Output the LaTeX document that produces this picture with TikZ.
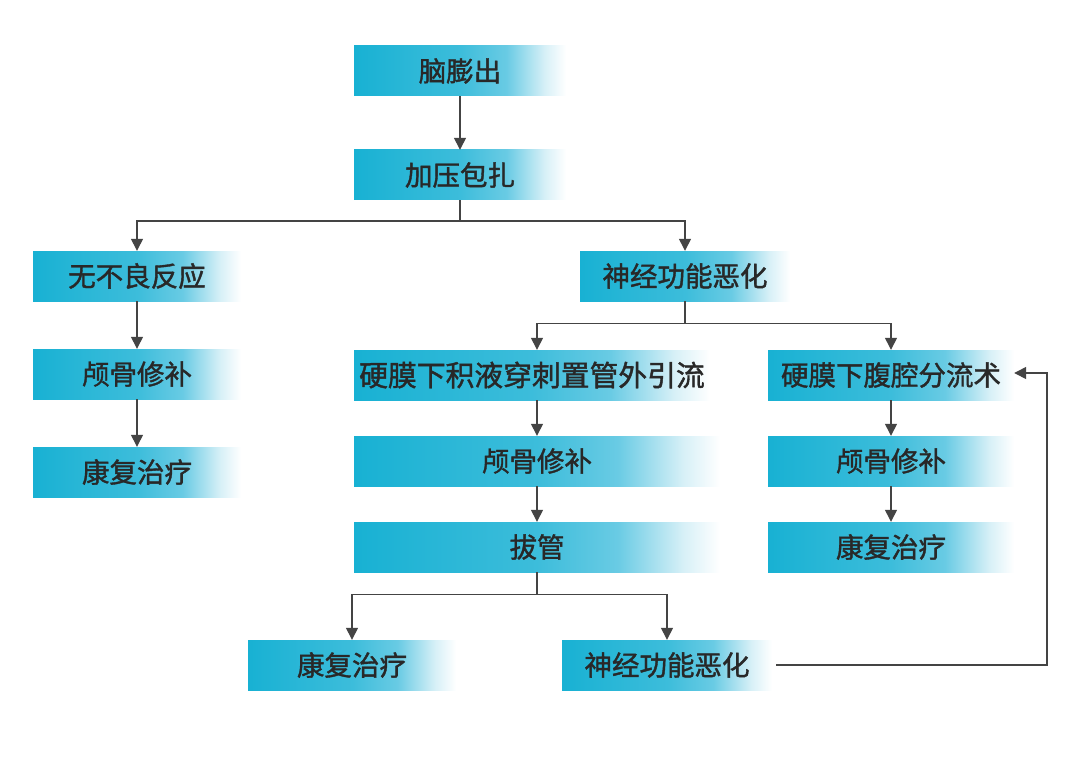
\documentclass[tikz,border=0pt]{standalone}
\usepackage{fontspec}
\newfontfamily\cjk[FakeBold=1.4]{Noto Sans CJK SC}
\usetikzlibrary{arrows.meta,calc}
\definecolor{cA}{RGB}{24,177,211}
\definecolor{cB}{RGB}{105,203,228}
\definecolor{cC}{RGB}{215,240,247}
\definecolor{txt}{RGB}{40,40,40}
\definecolor{ln}{RGB}{68,68,68}
\pgfdeclarehorizontalshading{boxfade}{100bp}{color(0bp)=(cA); color(25bp)=(cA); color(50bp)=(cA!55!cB); color(61bp)=(cB); color(70bp)=(cC); color(75bp)=(white); color(100bp)=(white)}
\tikzset{
  box/.style={rectangle, shading=boxfade, minimum height=50pt, inner sep=0pt,
    text=txt, font=\cjk\fontsize{27.5}{32}\selectfont},
  arr/.style={draw=ln, line width=1.4pt, -{Triangle[width=12pt,length=12pt]}},
  ln/.style={draw=ln, line width=1.4pt}
}
\begin{document}
\begin{tikzpicture}[x=1pt,y=-1pt]
\useasboundingbox (0,0) rectangle (1080,765);
\fill[white] (0,0) rectangle (1080,765);
% top
\node[box, minimum width=212pt] (a) at (460,71) {脑膨出};
\node[box, minimum width=212pt] (b) at (460,175) {加压包扎};
% level 3
\node[box, minimum width=208pt] (l1) at (137,276) {无不良反应};
\node[box, minimum width=210pt] (r0) at (685,276) {神经功能恶化};
% left column
\node[box, minimum width=208pt] (l2) at (137,374) {颅骨修补};
\node[box, minimum width=208pt] (l3) at (137,472) {康复治疗};
% middle column
\node[box, minimum width=356pt, font=\cjk\fontsize{28.8}{32}\selectfont] (m1) at (532,375) {硬膜下积液穿刺置管外引流};
\node[box, minimum width=366pt] (m2) at (537,461) {颅骨修补};
\node[box, minimum width=366pt] (m3) at (537,547) {拔管};
% right column
\node[box, minimum width=246pt] (q1) at (891,375) {硬膜下腹腔分流术};
\node[box, minimum width=246pt] (q2) at (891,461) {颅骨修补};
\node[box, minimum width=246pt] (q3) at (891,547) {康复治疗};
% bottom
\node[box, minimum width=208pt] (k1) at (352,665) {康复治疗};
\node[box, minimum width=210pt] (k2) at (667,665) {神经功能恶化};
% connectors
\draw[arr] (a.south) -- (b.north);
\coordinate (j1) at ($(b.south)+(0,21)$);
\draw[ln] (b.south) -- (j1);
\draw[arr] (j1) -| (l1.north);
\draw[arr] (j1) -| (r0.north);
\draw[arr] (l1.south) -- (l2.north);
\draw[arr] (l2.south) -- (l3.north);
\coordinate (j2) at ($(r0.south)+(0,22)$);
\draw[ln] (r0.south) -- (j2);
\draw[arr] (j2) -| (m2.north |- m1.north);
\draw[arr] (j2) -| (q1.north);
\draw[arr] (m2.north |- m1.south) -- (m2.north);
\draw[arr] (m2.south) -- (m3.north);
\draw[arr] (q1.south) -- (q2.north);
\draw[arr] (q2.south) -- (q3.north);
\coordinate (j3) at ($(m3.south)+(0,22)$);
\draw[ln] (m3.south) -- (j3);
\draw[arr] (j3) -| (k1.north);
\draw[arr] (j3) -| (k2.north);
\coordinate (s0) at ($(k2.east)+(4,0)$);
\coordinate (c1) at (1047,665);
\coordinate (c2) at (1047,373);
\draw[arr] (s0) -- (c1) -- (c2) -- (q1.east |- c2);
\end{tikzpicture}
\end{document}
